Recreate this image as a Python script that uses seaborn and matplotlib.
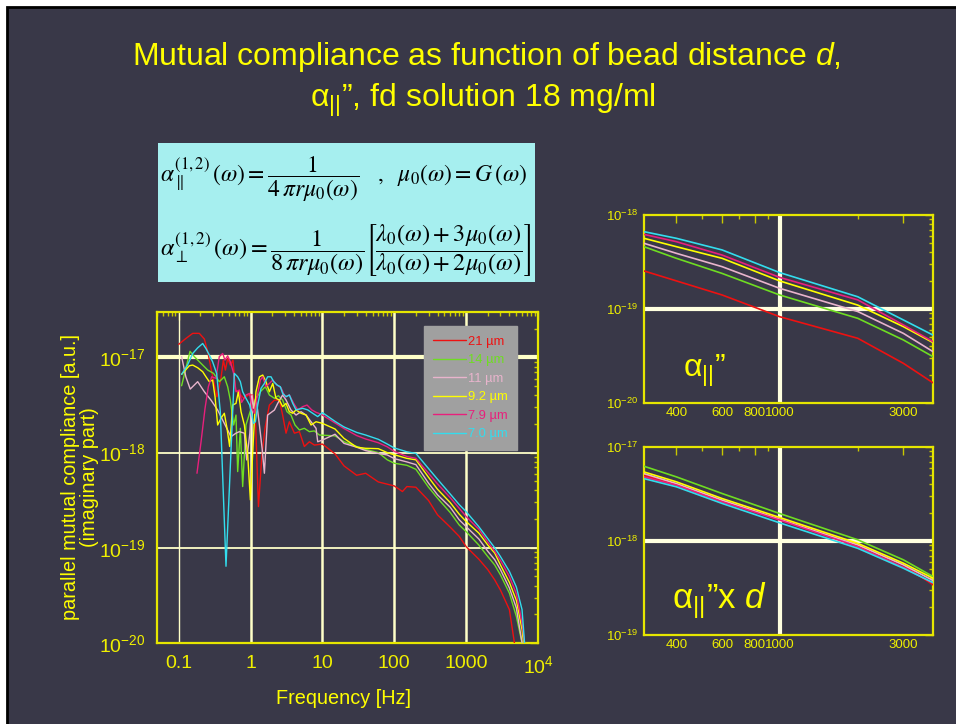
import math
import matplotlib
matplotlib.use('Agg')
import matplotlib.pyplot as plt
import matplotlib.ticker as mticker
from matplotlib.patches import Rectangle
import seaborn as sns

# ---- main panel: imaginary part of parallel mutual compliance vs frequency ----
f_21 = [0.1, 0.126, 0.157, 0.194, 0.228, 0.254, 0.288, 0.342, 0.388, 0.419,
        0.447, 0.481, 0.524, 0.570, 0.621, 0.699, 0.804, 0.933, 1.08, 1.18,
        1.29, 1.43, 1.59, 1.83, 2.15, 2.52, 2.80, 3.12, 3.47, 4.08,
        4.79, 5.61, 6.59, 7.74, 10, 15, 20, 30, 40, 60,
        80, 100, 130, 150, 200, 300, 400, 600, 800, 1000,
        1500, 2000, 2500, 3000, 4000, 4700, 5000]
a_21 = [1.37e-17, 1.58e-17, 1.79e-17, 1.79e-17, 1.56e-17, 1.15e-17, 7.08e-18, 3.86e-18, 6.03e-18, 9.38e-18,
        7.36e-18, 9.76e-18, 8.31e-18, 9.38e-18, 4.54e-18, 4.19e-18, 3.72e-18, 4.03e-18, 4.03e-18, 1.95e-18,
        2.71e-19, 8.73e-19, 1.80e-18, 3.16e-18, 3.56e-18, 3.56e-18, 2.48e-18, 1.60e-18, 2.11e-18, 1.60e-18,
        1.66e-18, 1.16e-18, 1.30e-18, 1.20e-18, 1.23e-18, 9.7e-19, 7.25e-19, 5.78e-19, 6.07e-19, 4.92e-19,
        4.66e-19, 4.47e-19, 3.9e-19, 4.4e-19, 4.33e-19, 3.14e-19, 2.22e-19, 1.65e-19, 1.32e-19, 1.03e-19,
        7.6e-20, 5.9e-20, 4.6e-20, 3.6e-20, 2.24e-20, 1.0e-20, 8e-21]

f_14 = [0.110, 0.144, 0.165, 0.205, 0.254, 0.307, 0.368, 0.432, 0.481, 0.524,
        0.583, 0.628, 0.663, 0.722, 0.778, 0.865, 1.02, 1.19, 1.40, 1.61,
        1.83, 2.15, 2.44, 2.80, 3.22, 3.66, 4.16, 4.79, 5.61, 6.59,
        7.74, 9.07, 15, 20, 30, 40, 60, 80, 100, 150,
        200, 300, 400, 600, 800, 1000, 1500, 2000, 2500, 3000,
        4000, 5000, 6000]
a_14 = [5.04e-18, 1.16e-17, 1.02e-17, 8.65e-18, 7.36e-18, 6.79e-18, 5.56e-18, 6.26e-18, 4.92e-18, 3.56e-18,
        1.95e-18, 2.48e-18, 6.32e-19, 1.80e-18, 4.40e-19, 1.95e-18, 2.92e-18, 3.72e-18, 4.44e-18, 4.92e-18,
        4.03e-18, 3.72e-18, 3.96e-18, 3.57e-18, 2.69e-18, 2.48e-18, 1.95e-18, 1.73e-18, 1.80e-18, 1.66e-18,
        1.69e-18, 1.53e-18, 1.50e-18, 1.30e-18, 1.16e-18, 1.08e-18, 1.0e-18, 8.4e-19, 7.73e-19, 7.36e-19,
        6.68e-19, 4.33e-19, 3.32e-19, 2.35e-19, 1.74e-19, 1.48e-19, 1.07e-19, 8.1e-20, 6.6e-20, 5.2e-20,
        3.34e-20, 1.9e-20, 1.0e-20]

f_11 = [0.110, 0.126, 0.145, 0.184, 0.228, 0.282, 0.349, 0.456, 0.535, 0.628,
        0.699, 0.821, 0.885, 0.979, 1.05, 1.11, 1.19, 1.33, 1.45, 1.56,
        1.73, 2.15, 2.39, 2.80, 3.12, 3.66, 4.30, 5.05, 5.93, 6.95,
        8.16, 8.61, 10.1, 15, 20, 30, 40, 60, 80, 100,
        150, 200, 300, 400, 600, 800, 1000, 1500, 2000, 2500,
        3000, 4000, 5000, 6000]
a_11 = [1.02e-17, 6.26e-18, 4.65e-18, 5.56e-18, 4.36e-18, 3.56e-18, 2.80e-18, 1.87e-18, 1.47e-18, 1.60e-18,
        1.66e-18, 1.60e-18, 8.38e-19, 1.60e-18, 4.03e-18, 2.92e-18, 3.86e-18, 1.95e-18, 1.11e-18, 6.07e-19,
        2.48e-18, 2.80e-18, 3.29e-18, 4.03e-18, 3.57e-18, 2.80e-18, 2.48e-18, 2.69e-18, 2.48e-18, 2.11e-18,
        1.80e-18, 1.30e-18, 1.36e-18, 1.56e-18, 1.25e-18, 1.14e-18, 1.05e-18, 9.8e-19, 9.45e-19, 8.65e-19,
        7.98e-19, 7.48e-19, 4.77e-19, 3.6e-19, 2.67e-19, 1.97e-19, 1.67e-19, 1.24e-19, 9.2e-20, 7.5e-20,
        5.9e-20, 3.78e-20, 2.33e-20, 1.0e-20]

f_92 = [0.110, 0.141, 0.157, 0.184, 0.216, 0.240, 0.267, 0.297, 0.321, 0.349,
        0.388, 0.432, 0.471, 0.513, 0.565, 0.628, 0.678, 0.738, 0.821, 0.914,
        0.996, 1.11, 1.19, 1.33, 1.48, 1.64, 1.83, 2.04, 2.26, 2.52,
        2.80, 3.12, 3.47, 3.87, 4.30, 5.05, 5.93, 6.95, 8.16, 10,
        15, 20, 30, 40, 60, 80, 100, 150, 200, 300,
        400, 600, 800, 1000, 1500, 2000, 2500, 3000, 4000, 5000,
        6000, 6400]
a_92 = [6.64e-18, 8.18e-18, 8.31e-18, 7.79e-18, 7.08e-18, 6.26e-18, 5.56e-18, 5.78e-18, 3.86e-18, 1.95e-18,
        2.29e-18, 2.59e-18, 1.80e-18, 1.16e-18, 3.16e-18, 3.29e-18, 4.36e-18, 2.69e-18, 1.95e-18, 9.46e-19,
        3.18e-19, 1.66e-18, 4.36e-18, 6.26e-18, 6.53e-18, 5.56e-18, 4.36e-18, 5.33e-18, 3.72e-18, 3.56e-18,
        3.04e-18, 3.29e-18, 2.69e-18, 2.59e-18, 2.81e-18, 2.59e-18, 2.48e-18, 1.95e-18, 2.11e-18, 2.03e-18,
        1.77e-18, 1.41e-18, 1.14e-18, 1.11e-18, 1.10e-18, 1.0e-18, 9.5e-19, 8.7e-19, 8.4e-19, 5.5e-19,
        4.12e-19, 2.99e-19, 2.26e-19, 1.89e-19, 1.43e-19, 1.07e-19, 8.8e-20, 6.6e-20, 4.33e-20, 2.8e-20,
        1.38e-20, 9e-21]

f_79 = [0.180, 0.205, 0.233, 0.259, 0.288, 0.331, 0.368, 0.410, 0.441, 0.481,
        0.524, 0.583, 0.628, 0.699, 0.753, 0.865, 0.973, 1.05, 1.13, 1.26,
        1.37, 1.48, 1.64, 1.83, 2.04, 2.34, 2.66, 3.02, 3.47, 3.99,
        4.54, 5.32, 6.12, 7.11, 8.16, 9.58, 15, 20, 30, 40,
        60, 80, 100, 150, 200, 300, 400, 600, 800, 1000,
        1500, 2000, 2500, 3000, 4000, 5000, 6000, 6600]
a_79 = [6.07e-19, 1.30e-18, 2.92e-18, 4.92e-18, 6.26e-18, 6.03e-18, 1.02e-17, 1.10e-17, 9.38e-18, 1.04e-17,
        9.0e-18, 6.79e-18, 4.36e-18, 4.54e-18, 3.37e-18, 4.03e-18, 4.19e-18, 2.92e-18, 2.59e-18, 4.19e-18,
        5.78e-18, 6.26e-18, 4.92e-18, 5.33e-18, 5.78e-18, 5.13e-18, 4.80e-18, 3.86e-18, 4.03e-18, 3.29e-18,
        2.81e-18, 3.04e-18, 3.16e-18, 2.81e-18, 2.65e-18, 2.53e-18, 2.05e-18, 1.79e-18, 1.51e-18, 1.39e-18,
        1.27e-18, 1.15e-18, 1.03e-18, 9.1e-19, 8.7e-19, 6.07e-19, 4.69e-19, 3.37e-19, 2.61e-19, 2.13e-19,
        1.57e-19, 1.15e-19, 9.2e-20, 7.4e-20, 5.0e-20, 3.29e-20, 1.62e-20, 9e-21]

f_70 = [0.110, 0.133, 0.157, 0.184, 0.216, 0.240, 0.267, 0.297, 0.338, 0.380,
        0.456, 0.596, 0.663, 0.722, 0.778, 0.865, 0.973, 1.10, 1.17, 1.26,
        1.40, 1.56, 1.73, 1.93, 2.10, 2.34, 2.60, 2.80, 3.12, 3.47,
        3.87, 4.30, 4.79, 5.32, 6.25, 7.33, 8.61, 10, 15, 20,
        30, 40, 60, 80, 100, 150, 200, 300, 400, 600,
        800, 1000, 1500, 2000, 2500, 3000, 4000, 5000, 6000, 6500,
        7000]
a_70 = [6.64e-18, 8.31e-18, 1.10e-17, 1.26e-17, 1.40e-17, 1.24e-17, 1.06e-17, 9.0e-18, 6.79e-18, 2.69e-18,
        6.4e-20, 6.79e-18, 6.26e-18, 5.56e-18, 4.36e-18, 3.72e-18, 3.16e-18, 2.03e-18, 2.11e-18, 3.16e-18,
        4.73e-18, 5.33e-18, 6.26e-18, 6.26e-18, 5.56e-18, 5.13e-18, 4.92e-18, 4.19e-18, 3.86e-18, 4.03e-18,
        3.29e-18, 2.81e-18, 2.87e-18, 2.92e-18, 2.81e-18, 2.59e-18, 2.39e-18, 2.63e-18, 2.13e-18, 1.86e-18,
        1.63e-18, 1.53e-18, 1.38e-18, 1.23e-18, 1.12e-18, 1.02e-18, 9.8e-19, 6.8e-19, 5.25e-19, 3.68e-19,
        2.85e-19, 2.40e-19, 1.67e-19, 1.25e-19, 1.0e-19, 8.1e-20, 5.65e-20, 3.87e-20, 2.24e-20, 1.0e-20,
        7e-21]

labels = ['21 µm', '14 µm', '11 µm', '9.2 µm', '7.9 µm', '7.0 µm']
colors = ['#ee1111', '#6fdd22', '#e8b4cc', '#ffff00', '#e8207c', '#33ddee']

# ---- right panels: 300 Hz .. 3.9 kHz ----
f_zoom = [300, 400, 600, 1000, 2000, 3000, 3900]
alpha_par = [
    [2.54e-19, 1.99e-19, 1.41e-19, 8.28e-20, 4.88e-20, 2.64e-20, 1.64e-20],  # 21
    [4.6e-19, 3.46e-19, 2.39e-19, 1.41e-19, 7.96e-20, 4.68e-20, 3.11e-20],   # 14
    [5.0e-19, 3.91e-19, 2.82e-19, 1.66e-19, 9.4e-20, 5.5e-20, 3.52e-20],     # 11
    [5.65e-19, 4.6e-19, 3.46e-19, 1.99e-19, 1.10e-19, 6.49e-20, 4.39e-20],   # 9.2
    [6.22e-19, 5.2e-19, 3.75e-19, 2.17e-19, 1.25e-19, 6.76e-20, 4.49e-20],   # 7.9
    [6.65e-19, 5.65e-19, 4.25e-19, 2.44e-19, 1.35e-19, 7.64e-20, 5.28e-20],  # 7.0
]
alpha_par_d = [
    [5.01e-18, 4.02e-18, 2.68e-18, 1.74e-18, 9.08e-19, 5.57e-19, 3.42e-19],
    [6.24e-18, 4.81e-18, 3.2e-18, 1.96e-18, 1.03e-18, 6.3e-19, 4.19e-19],
    [5.21e-18, 4.08e-18, 2.72e-18, 1.70e-18, 9.08e-19, 5.57e-19, 3.8e-19],
    [5.43e-18, 4.26e-18, 2.83e-18, 1.78e-18, 9.44e-19, 5.8e-19, 4.02e-19],
    [4.81e-18, 3.93e-18, 2.61e-18, 1.67e-18, 8.71e-19, 5.26e-19, 3.56e-19],
    [4.61e-18, 3.77e-18, 2.51e-18, 1.56e-18, 8.36e-19, 5.13e-19, 3.61e-19],
]

BG = '#393848'
YEL = '#ffff00'
TICKLAB = '#f0f000'
GRID = '#ffffc8'

sns.set_style('dark')
plt.rcParams['font.family'] = ['Liberation Sans', 'DejaVu Sans']
plt.rcParams['mathtext.fontset'] = 'custom'
plt.rcParams['mathtext.rm'] = 'Liberation Sans'
plt.rcParams['mathtext.it'] = 'Liberation Sans:italic'
plt.rcParams['mathtext.bf'] = 'Liberation Sans:bold'

W, H = 956, 724
fig = plt.figure(figsize=(W / 100, H / 100), dpi=100, facecolor='white')
fig.patches.append(Rectangle((7 / W, -0.01), 1.02, 1 - 7 / H + 0.01, transform=fig.transFigure,
                             facecolor=BG, edgecolor='black', lw=2, zorder=-10))


def px_axes(x0, y0, x1, y1):
    return fig.add_axes([x0 / W, 1 - y1 / H, (x1 - x0) / W, (y1 - y0) / H])


def style(ax, labelsize):
    ax.set_facecolor(BG)
    ax.set_xscale('log')
    ax.set_yscale('log')
    for s in ax.spines.values():
        s.set_visible(True)
        s.set_color('#e6e600')
        s.set_linewidth(1.6)
    ax.tick_params(which='both', direction='in', top=True, right=True,
                   color='#c8c800', labelcolor=TICKLAB, labelsize=labelsize)
    ax.tick_params(which='major', length=6, width=1)
    ax.tick_params(which='minor', length=3, width=1)
    ax.grid(False)


# ---- main panel ----
ax = px_axes(157, 312, 538, 643)
style(ax, 14)
for v, w in [(0.1, 1.0), (1, 1.8), (10, 1.8), (100, 1.8), (1000, 1.8)]:
    ax.axvline(v, color=GRID, lw=w, zorder=1)
for v, w in [(1e-17, 3.0), (1e-18, 1.3), (1e-19, 1.3)]:
    ax.axhline(v, color=GRID, lw=w, zorder=1)

main_f = [f_21, f_14, f_11, f_92, f_79, f_70]
main_a = [a_21, a_14, a_11, a_92, a_79, a_70]
for f, a, c, lab in zip(main_f, main_a, colors, labels):
    sns.lineplot(x=f, y=a, ax=ax, color=c, lw=1.0, label=lab, estimator=None, sort=False, zorder=3)

ax.set_xlim(0.05, 1e4)
ax.set_ylim(1e-20, 3e-17)
ax.set_xticks([0.1, 1, 10, 100, 1000, 1e4], ['0.1', '1', '10', '100', '1000', r'$10^4$'])
ax.set_yticks([1e-20, 1e-19, 1e-18, 1e-17],
              [r'$10^{-20}$', r'$10^{-19}$', r'$10^{-18}$', r'$10^{-17}$'])
ax.xaxis.set_minor_locator(mticker.LogLocator(base=10, subs=range(2, 10), numticks=100))
ax.yaxis.set_minor_locator(mticker.LogLocator(base=10, subs=range(2, 10), numticks=100))
ax.xaxis.set_minor_formatter(mticker.NullFormatter())
ax.yaxis.set_minor_formatter(mticker.NullFormatter())
ax.tick_params(axis='y', pad=8)
ax.tick_params(axis='x', pad=9)
ax.set_xlabel('')
ax.set_ylabel('')

leg = ax.legend(loc='upper right', bbox_to_anchor=(0.945, 0.958), borderaxespad=0, fontsize=9.3,
                labelcolor='linecolor', facecolor='#a0a0a0', edgecolor='#a0a0a0',
                framealpha=1, fancybox=False, handlelength=2.5, labelspacing=0.5,
                borderpad=0.75, handletextpad=0.15)
leg.set_zorder(5)

fig.text(343 / W, 1 - 698 / H, 'Frequency [Hz]', color=YEL, fontsize=14.3, ha='center', va='center')
fig.text(80 / W, 1 - 477 / H, 'parallel mutual compliance [a.u.]\n(imaginary part)', color=YEL,
         fontsize=14.3, ha='center', va='center', rotation=90, multialignment='center', linespacing=0.95)

# ---- right panels ----
for (y0, y1), data, ylim, mid, txt, tx, fs in [
        ((215, 403), alpha_par, (1e-20, 1e-18), 1e-19, 'α$_{||}$”', 0.135, 23),
        ((447, 635), alpha_par_d, (1e-19, 1e-17), 1e-18, 'α$_{||}$”x $d$', 0.097, 25)]:
    rax = px_axes(644, y0, 933, y1)
    style(rax, 9.5)
    rax.axvline(1000, color='#ffffe0', lw=3, zorder=1)
    rax.axhline(mid, color='#ffffe0', lw=3, zorder=1)
    for vals, c in zip(data, colors):
        sns.lineplot(x=f_zoom, y=vals, ax=rax, color=c, lw=1.2, estimator=None, sort=False, zorder=3)
    rax.set_xlim(300, 3900)
    rax.set_ylim(*ylim)
    rax.set_xticks([400, 600, 800, 1000, 3000], ['400', '600', '800', '1000', '3000'])
    rax.xaxis.set_minor_locator(mticker.FixedLocator([500, 700, 900, 2000]))
    rax.xaxis.set_minor_formatter(mticker.NullFormatter())
    yt = [ylim[0], mid, ylim[1]]
    rax.set_yticks(yt, [r'$10^{%d}$' % round(math.log10(v)) for v in yt])
    rax.yaxis.set_minor_locator(mticker.LogLocator(base=10, subs=range(2, 10), numticks=100))
    rax.yaxis.set_minor_formatter(mticker.NullFormatter())
    rax.tick_params(axis='y', pad=4)
    rax.tick_params(axis='x', pad=3)
    rax.set_xlabel('')
    rax.set_ylabel('')
    rax.text(tx, 0.14, txt, transform=rax.transAxes, color=YEL, fontsize=fs, ha='left', va='baseline')

# ---- formula box ----
bax = px_axes(158, 143, 535, 282)
bax.set_facecolor('#a6efef')
bax.set_xticks([])
bax.set_yticks([])
for s in bax.spines.values():
    s.set_visible(False)
eq1 = (r'$\alpha_{\parallel}^{(1,2)}\,(\omega) = \dfrac{1}{4\,\pi r\mu_0(\omega)}'
       r'\quad ,\ \ \mu_0(\omega) = G\,(\omega)$')
eq2 = (r'$\alpha_{\perp}^{(1,2)}\,(\omega) = \dfrac{1}{8\,\pi r\mu_0(\omega)}'
       r'\left[\dfrac{\lambda_0(\omega)+3\mu_0(\omega)}{\lambda_0(\omega)+2\mu_0(\omega)}\right]$')
bax.text(0.005, 0.74, eq1, fontsize=17, math_fontfamily='stix', color='black', ha='left', va='center',
         transform=bax.transAxes)
bax.text(0.005, 0.23, eq2, fontsize=17.5, math_fontfamily='stix', color='black', ha='left', va='center',
         transform=bax.transAxes)

# ---- title ----
fig.text(486 / W, 1 - 57 / H, 'Mutual compliance as function of bead distance $d$,', color=YEL,
         fontsize=23, ha='center', va='center')
fig.text(483 / W, 1 - 100 / H, 'α$_{||}$”, fd solution 18 mg/ml', color=YEL,
         fontsize=23, ha='center', va='center')

fig.savefig('out.png', dpi=100, facecolor=fig.get_facecolor())
